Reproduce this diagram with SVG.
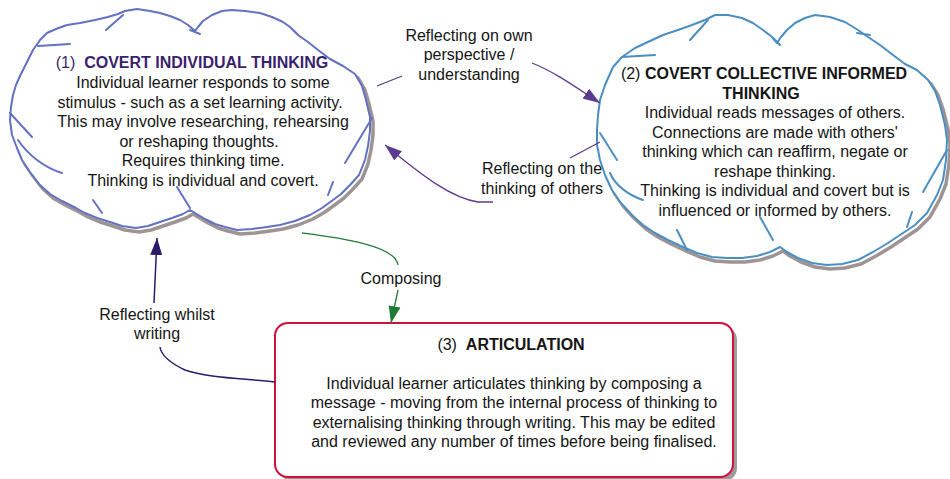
<svg xmlns="http://www.w3.org/2000/svg" width="950" height="479" viewBox="0 0 950 479">
<defs>
<style>
text{font-family:"Liberation Sans",Arial,Helvetica,sans-serif;font-size:16px;fill:#151515;text-anchor:middle;white-space:pre}
.b{font-weight:bold}
.p{fill:#3b1f6e}
.shadow{fill:none;stroke:#9e9494;stroke-width:3.5;stroke-linejoin:round}
.c1{fill:#fff;stroke:#6271c2;stroke-width:2;stroke-linejoin:round}
.c2{fill:#fff;stroke:#4b8fc2;stroke-width:2;stroke-linejoin:round}
.t1{fill:none;stroke:#6271c2;stroke-width:2;stroke-linecap:round}
.t2{fill:none;stroke:#4b8fc2;stroke-width:2;stroke-linecap:round}
.cp{fill:none;stroke:#5b3b8f;stroke-width:1.3}
.cg{fill:none;stroke:#1f7a34;stroke-width:1.3}
.ci{fill:none;stroke:#2c1b6c;stroke-width:1.5}
</style>
<marker id="ap" markerUnits="userSpaceOnUse" markerWidth="18" markerHeight="12" refX="17" refY="6" orient="auto"><path d="M0,0 L17,6 L0,12 Z" fill="#5b3b8f"/></marker>
<marker id="ag" markerUnits="userSpaceOnUse" markerWidth="18" markerHeight="12" refX="17" refY="6" orient="auto"><path d="M0,0 L17,6 L0,12 Z" fill="#1f7a34"/></marker>
<marker id="ai" markerUnits="userSpaceOnUse" markerWidth="18" markerHeight="12" refX="17" refY="6" orient="auto"><path d="M0,0 L17,6 L0,12 Z" fill="#2c1b6c"/></marker>
<path id="cloud1" d="M33,50 L40,40 47,33 56,29 67,25 80,23 95,20 108,17 118,14 125,11 137,9 150,11 160,13 170,16 180,20 188,25 195,31 198,27 203,21 212,15 222,11 232,10 245,11 260,13 272,17 283,22 290,27 298,35 308,42 318,50 330,59 343,66 355,74 362,86 366,100 370,117 370,131 368,146 365,160 359,175 350,185 341,194 333,200 322,208 310,215 295,221 280,225 267,227 252,229 237,230 225,227 215,224 205,219 195,213 190,210 183,214 172,218 160,222 148,226 136,228 122,226 110,222 97,218 85,213 76,208 62,201 50,194 40,185 30,172 22,160 17,148 12,135 10,120 11,107 13,95 16,85 20,76 25,66 Z"/>
<path id="cloud2" d="M613,67 L622,57 635,48 650,41 663,35 678,30 692,25 705,20 715,15 728,15 742,18 753,23 763,30 772,37 777,43 781,37 787,30 795,23 805,18 815,15 830,17 845,22 858,30 868,37 880,45 893,55 905,64 917,70 928,80 935,91 940,105 945,125 947,140 946,160 943,180 937,195 927,213 915,225 903,233 888,243 873,252 858,260 842,264 827,265 812,263 798,258 787,252 780,247 770,252 757,256 742,258 727,258 712,257 697,253 683,247 668,240 655,233 643,225 632,215 621,203 612,190 605,175 600,160 597,145 597,130 598,115 600,100 605,85 Z"/>
</defs>
<rect width="950" height="479" fill="#fff"/>

<g id="node1">
<use href="#cloud1" class="shadow" transform="translate(3,4)"/>
<use href="#cloud1" class="c1"/>
<path class="t1" d="M38,46 L70,44 M106,30 L123,15 M190,30 L200,34 M345,163 L372,118 M328,195 L333,182 M177,187 L190,208 M93,200 L102,213 M62,173 C45,168 28,155 18,140 M32,137 L10,113"/>
<text x="192" y="68"><tspan class="p">(1)  </tspan><tspan class="p b">COVERT INDIVIDUAL THINKING</tspan></text>
<text x="203" y="88">Individual learner responds to some</text>
<text x="200" y="107.5">stimulus - such as a set learning activity.</text>
<text x="203" y="127">This may involve researching, rehearsing</text>
<text x="199" y="146.5">or reshaping thoughts.</text>
<text x="203" y="166">Requires thinking time.</text>
<text x="203" y="185.5">Thinking is individual and covert.</text>
</g>

<g id="node2">
<use href="#cloud2" class="shadow" transform="translate(3,4)"/>
<use href="#cloud2" class="c2"/>
<path class="t2" d="M655,55 L622,57 M690,40 L708,20 M773,38 L780,45 M857,33 L870,35 M923,192 L947,150 M907,227 L912,212 M760,217 L773,240 M677,230 L687,250 M643,200 C628,195 615,185 610,173 M617,160 L600,133"/>
<text x="764" y="79"><tspan>(2) </tspan><tspan class="b">COVERT COLLECTIVE INFORMED</tspan></text>
<text x="761" y="98.5" class="b">THINKING</text>
<text x="775" y="118">Individual reads messages of others.</text>
<text x="775" y="137.5">Connections are made with others'</text>
<text x="775" y="157">thinking which can reaffirm, negate or</text>
<text x="775" y="176.5">reshape thinking.</text>
<text x="775" y="196">Thinking is individual and covert but is</text>
<text x="775" y="215.5">influenced or informed by others.</text>
</g>

<g id="node3">
<rect x="279" y="327" width="458" height="154" rx="13" fill="#a09a9a"/>
<rect x="275" y="323" width="458" height="154" rx="13" fill="#fff" stroke="#d0103a" stroke-width="2"/>
<text x="511" y="349.5"><tspan>(3)  </tspan><tspan class="b">ARTICULATION</tspan></text>
<text x="514" y="388.5">Individual learner articulates thinking by composing a</text>
<text x="514" y="408">message - moving from the internal process of thinking to</text>
<text x="514" y="427.5">externalising thinking through writing. This may be edited</text>
<text x="514" y="447">and reviewed any number of times before being finalised.</text>
</g>

<g id="connectors">
<path class="cp" d="M377,86 L402,76"/>
<path class="cp" d="M532,63 C555,72 577,88 600,103" marker-end="url(#ap)"/>
<path class="cp" d="M600,142 L570,158"/>
<path class="cp" d="M493,202 L478,202 C452,198 425,178 385,145" marker-end="url(#ap)"/>
<path class="cg" d="M302,233 C340,238 395,245 398,265"/>
<path class="cg" d="M398,290 L391,323" marker-end="url(#ag)"/>
<path class="ci" d="M275,382 C235,378 205,377 185,370 C168,362 161,354 160,347"/>
<path class="ci" d="M154,303 L157,238" marker-end="url(#ai)"/>
<text x="469" y="40.5">Reflecting on own</text>
<text x="469" y="60">perspective /</text>
<text x="469" y="79.5">understanding</text>
<text x="542" y="174">Reflecting on the</text>
<text x="542" y="193.5">thinking of others</text>
<text x="401" y="283.5">Composing</text>
<text x="157" y="319.5">Reflecting whilst</text>
<text x="157" y="339">writing</text>
</g>
</svg>
